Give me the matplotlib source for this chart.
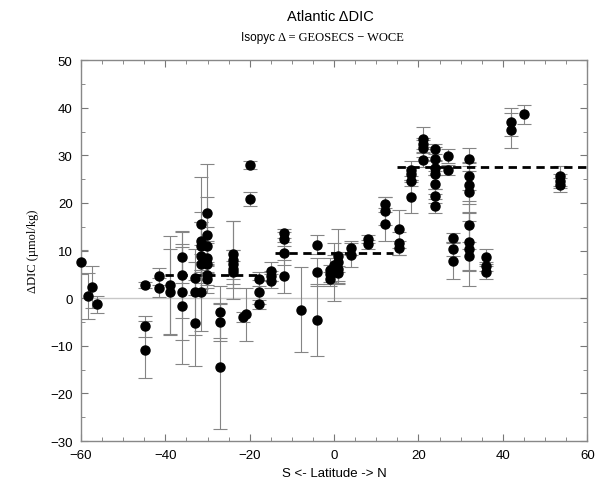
import matplotlib
matplotlib.use("Agg")
import matplotlib.pyplot as plt
from matplotlib.ticker import MultipleLocator

# station latitude, isopycnal DIC difference and its uncertainty
lat = [-60.0, -58.4, -57.3, -56.3,
       -44.8, -44.8, -44.8, -41.5, -41.5, -39.0, -39.0,
       -36.0, -36.0, -36.0, -36.0, -33.0, -33.0, -33.0,
       -30.2, -31.5, -30.2, -31.5, -30.2, -31.5, -31.5, -30.2, -30.2, -31.5, -30.2, -30.2, -31.5,
       -27.0, -27.0, -27.0,
       -23.9, -23.9, -23.9, -23.9, -23.9,
       -19.9, -19.9, -20.9, -21.6,
       -17.9, -17.9, -17.9, -15.0, -15.0, -15.0,
       -11.9, -11.9, -11.9, -11.9, -7.8, -4.0, -4.0, -4.0,
       -1.0, -1.0, -1.0, 0.0, 0.0, 1.0, 1.0, 1.0, 1.0,
       4.0, 4.0, 8.0, 8.0,
       12.1, 12.1, 12.1, 15.3, 15.3, 15.3,
       18.2, 18.2, 18.2, 18.2, 21.0, 21.0, 21.0, 21.0,
       24.0, 24.0, 24.0, 24.0, 24.0, 24.0, 24.0, 27.1, 27.1,
       28.1, 28.1, 28.1,
       31.9, 31.9, 31.9, 31.9, 31.9, 31.9, 31.9, 31.9,
       36.0, 36.0, 36.0, 42.0, 42.0, 44.9,
       53.6, 53.6, 53.6]
ddic = [7.6, 0.5, 2.3, -1.3,
        2.8, -5.9, -10.8, 4.6, 2.2, 2.8, 1.3,
        8.6, 4.8, 1.3, -1.6, 4.2, 1.3, -5.2,
        17.8, 15.5, 13.2, 12.0, 11.0, 11.0, 8.9, 8.5, 7.1, 7.1, 4.8, 4.1, 1.2,
        -2.9, -5.0, -14.4,
        9.2, 8.0, 7.1, 6.1, 5.4,
        28.0, 20.9, -3.4, -4.0,
        4.1, 1.3, -1.3, 5.7, 4.7, 3.6,
        13.6, 12.5, 9.4, 4.6, -2.4, 11.2, 5.5, -4.6,
        6.0, 5.0, 4.0, 7.0, 5.5, 8.8, 7.6, 6.2, 5.2,
        10.6, 9.0, 12.4, 11.3,
        19.7, 18.3, 15.5, 14.5, 11.5, 10.5,
        26.9, 26.0, 24.6, 21.3, 33.4, 32.3, 31.6, 29.0,
        31.3, 29.2, 27.4, 26.0, 23.9, 21.5, 19.4, 29.9, 26.9,
        12.7, 10.3, 7.8,
        29.2, 25.7, 23.7, 22.3, 15.4, 11.8, 10.3, 8.9,
        8.7, 6.7, 5.4, 37.0, 35.3, 38.6,
        25.7, 24.6, 23.7]
err = [2.6, 4.8, 4.4, 1.8,
       0.6, 2.2, 6.0, 1.8, 2.0, 10.3, 9.0,
       5.5, 9.0, 10.0, 12.3, 3.5, 9.0, 9.1,
       10.3, 10.0, 8.0, 6.0, 4.0, 5.0, 7.0, 3.0, 5.0, 4.0, 2.0, 3.0, 8.0,
       5.5, 4.0, 13.1,
       7.0, 8.2, 3.0, 4.0, 2.5,
       0.8, 1.5, 5.5, 1.0,
       1.5, 2.5, 1.0, 2.0, 1.0, 1.5,
       1.0, 1.5, 2.5, 3.5, 9.0, 2.0, 3.0, 7.5,
       2.5, 2.0, 1.5, 2.0, 6.0, 5.8, 2.0, 3.0, 1.5,
       1.5, 2.5, 0.8, 1.0,
       1.5, 3.0, 3.5, 4.0, 2.5, 1.5,
       2.0, 1.5, 1.0, 3.5, 2.6, 1.0, 2.0, 1.5,
       1.0, 2.5, 1.5, 3.0, 2.0, 1.5, 1.5, 1.5, 1.0,
       1.0, 1.5, 3.8,
       2.4, 3.0, 4.0, 6.0, 5.0, 6.0, 7.8, 3.0,
       1.6, 1.0, 1.4, 3.0, 3.7, 2.0,
       2.1, 1.5, 1.5]

# regional means (dashed)
mean_lat0 = [-40.0, -14.0, 15.0]
mean_lat1 = [-17.0, 14.0, 60.0]
mean_val = [4.8, 9.5, 27.6]

plt.rcParams["font.family"] = ["Liberation Sans", "DejaVu Sans"]

fig = plt.figure(figsize=(5.95, 4.89), dpi=100)
ax = fig.add_axes([0.136, 0.096, 0.851, 0.779])

ax.axhline(0, color="#c8c8c8", lw=1.0, zorder=1)
ax.errorbar(lat, ddic, yerr=err, fmt="none", ecolor="#858585", elinewidth=0.8,
            capsize=5, capthick=0.8, zorder=2)
ax.plot(lat, ddic, "o", color="black", ms=6.5, zorder=4, clip_on=False)
for x0, x1, y in zip(mean_lat0, mean_lat1, mean_val):
    ax.plot([x0, x1], [y, y], color="black", lw=2, ls=(0, (3, 2)), zorder=3)

ax.set_xlim(-60, 60)
ax.set_ylim(-30, 50)
ax.xaxis.set_major_locator(MultipleLocator(20))
ax.xaxis.set_minor_locator(MultipleLocator(5))
ax.yaxis.set_major_locator(MultipleLocator(10))
ax.yaxis.set_minor_locator(MultipleLocator(5))
ax.tick_params(which="both", direction="in", top=True, right=True,
               color="#777777", labelsize=9.5, pad=6)
ax.tick_params(which="major", length=5)
ax.tick_params(which="minor", length=3)
for s in ax.spines.values():
    s.set_color("#888888")
    s.set_linewidth(1.0)

ax.set_xlabel("S <- Latitude -> N", fontsize=9.5, labelpad=4)
ax.set_ylabel("ΔDIC (µmol/kg)", fontsize=9, family=["Liberation Serif", "DejaVu Serif"],
              labelpad=8)

fig.text(0.555, 0.965, "Atlantic ΔDIC", ha="center", va="center", fontsize=10.5)
fig.text(0.468, 0.922, "Isopyc ", ha="right", va="center", fontsize=8.5)
fig.text(0.468, 0.922, "Δ = GEOSECS − WOCE", ha="left", va="center", fontsize=9,
         family=["Liberation Serif", "DejaVu Serif"])

fig.savefig("out.png", dpi=100)
